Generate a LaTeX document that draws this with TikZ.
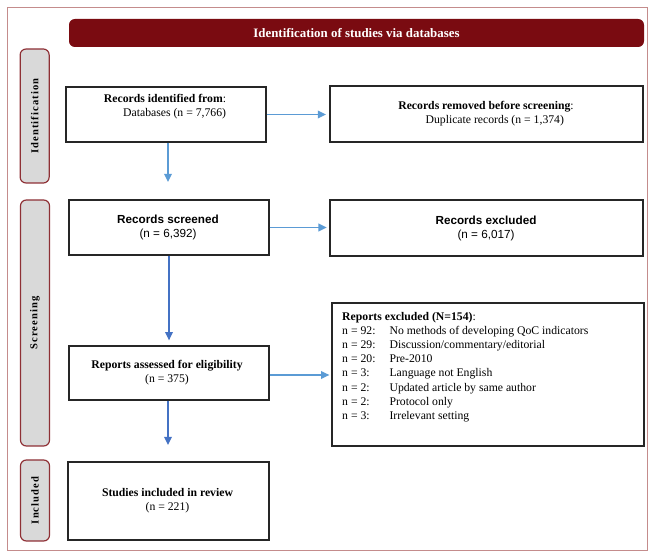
\documentclass[tikz,border=0pt]{standalone}
\usepackage{fontspec}
\setmainfont{Liberation Serif}
\setsansfont{Liberation Sans}
\usepackage{tikz}
\usetikzlibrary{arrows.meta, positioning}
\definecolor{prismared}{RGB}{122,11,17}
\definecolor{framered}{RGB}{196,140,140}
\definecolor{labelgray}{RGB}{217,217,217}
\definecolor{arrowblue}{RGB}{91,155,213}
\definecolor{arrowdark}{RGB}{68,114,196}

\begin{document}
\begin{tikzpicture}[box/.style={draw=black!85, line width=1.1pt, minimum width=6cm, minimum height=1.65cm},
  phase/.style={draw=prismared!85, fill=labelgray, line width=1pt, rounded corners=5pt, minimum height=0.87cm, rotate=90, font=\fontsize{9}{11}\selectfont\bfseries\addfontfeature{LetterSpace=10}},
  arr/.style={draw=arrowblue, line width=1.3pt, -{Triangle[length=7pt, width=6.5pt]}},
  txt/.style={font=\fontsize{10}{12}\selectfont, align=center}]
 \useasboundingbox (0,0) rectangle (19.53,16.56);
 \draw[draw=framered, line width=0.6pt] (0.21,16.35) rectangle (19.41,0.06);
 \node[fill=prismared, rounded corners=5pt, minimum width=17.25cm, minimum height=0.84cm, text=white, font=\fontsize{11}{13}\selectfont\bfseries] (head) at (10.695,15.57){Identification of studies via databases};
 % side labels
 \node[phase, minimum width=4.02cm] (idlab) at (1.04,13.08){Identification};
 \node[phase, minimum width=7.38cm] (scrlab) at (1.05,6.87){Screening};
 \node[phase, minimum width=2.43cm] (inclab) at (1.05,1.545){Included};
 % boxes
 \node[box] (ident) at (4.98,13.125){};
 \node[box, minimum width=9.39cm, minimum height=1.68cm] (removed) at (14.595,13.14){};
 \node[box] (screened) at (5.07,9.735){};
 \node[box, minimum width=9.39cm, minimum height=1.68cm] (excluded) at (14.595,9.72){};
 \node[box, minimum height=1.62cm] (assessed) at (5.07,5.37){};
 \node[box, minimum width=9.36cm, minimum height=4.29cm] (repexcl) at (14.64,5.325){};
 \node[box, minimum width=6.03cm, minimum height=2.34cm] (studies) at (5.055,1.53){};
 % texts
 \node[txt, align=right] (identtxt) at (4.95,13.365){\textbf{Records identified from}:\\Databases (n = 7,766)};
 \node[txt] (removedtxt) at (14.58,13.14){\textbf{Records removed before screening}:\\\hspace{1.5em}Duplicate records (n = 1,374)};
 \node[txt, font=\sffamily\fontsize{10}{12}\selectfont] (screenedtxt) at (5.04,9.75){\textbf{Records screened}\\(n = 6,392)};
 \node[txt, font=\sffamily\fontsize{10}{12}\selectfont] (excludedtxt) at (14.58,9.72){\textbf{Records excluded}\\(n = 6,017)};
 \node[txt] (assessedtxt) at (5.01,5.385){\textbf{Reports assessed for eligibility}\\(n = 375)};
 \node[txt, anchor=north west, inner sep=0pt] (repexcltxt) at (10.26,7.24){\begin{tabular}{@{}p{1.42cm}@{}l@{}}
  \multicolumn{2}{@{}l@{}}{\textbf{Reports excluded (N=154)}:}\\
  n = 92: & No methods of developing QoC indicators\\
  n = 29: & Discussion/commentary/editorial\\
  n = 20: & Pre-2010\\
  n = 3: & Language not English\\
  n = 2: & Updated article by same author\\
  n = 2: & Protocol only\\
  n = 3: & Irrelevant setting
 \end{tabular}};
 \node[txt] (studiestxt) at (5.025,1.545){\textbf{Studies included in review}\\(n = 221)};
 % arrows
 \coordinate (idend) at (5.04,11.1);
 \coordinate (asend) at (5.04,3.21);
 \draw[arr, shorten >=0.1cm] (ident.east) -- (ident.east -| removed.west);
 \draw[arr] (ident.south -| idend) -- (idend);
 \draw[arr, shorten >=0.08cm] (screened.east) -- (screened.east -| excluded.west);
 \draw[arr, draw=arrowdark, shorten >=0.15cm] (screened.south) -- (assessed.north);
 \draw[arr, shorten >=0.06cm] ([yshift=-0.06cm]assessed.east) -- ([yshift=-0.06cm]assessed.east -| repexcl.west);
 \draw[arr, draw=arrowdark] (assessed.south -| asend) -- (asend);
\end{tikzpicture}
\end{document}
